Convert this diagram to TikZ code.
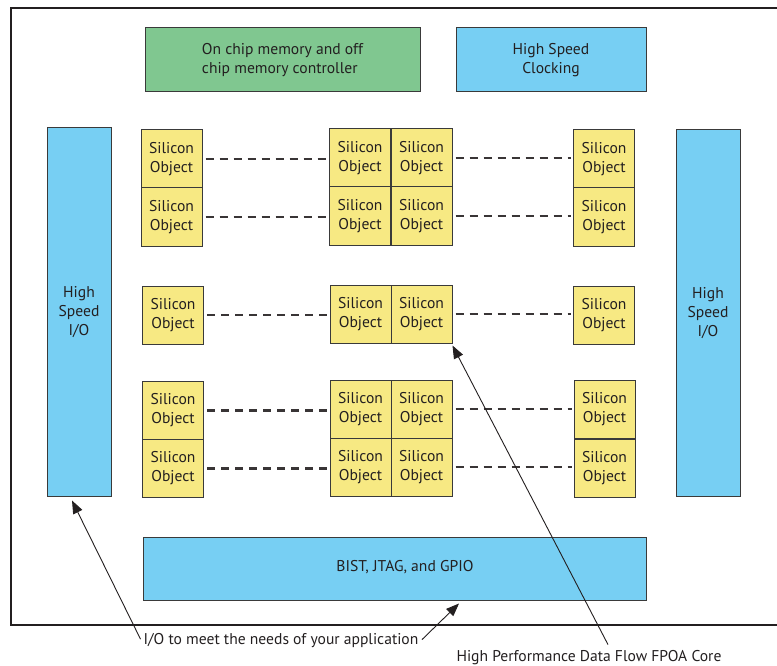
\documentclass[tikz,border=0pt]{standalone}
\usepackage{fontspec}
\setmainfont{PT Sans}
\usetikzlibrary{arrows.meta}
\definecolor{soyellow}{HTML}{F7E983}
\definecolor{ioblue}{HTML}{77CFF3}
\definecolor{memgreen}{HTML}{80C790}
\definecolor{edgegray}{HTML}{3A3A3A}
\definecolor{inkc}{HTML}{231F20}
\begin{document}
\begin{tikzpicture}[x=1pt,y=-1pt,
  txt/.style={font=\fontsize{15.6}{19}\selectfont, text=inkc},
  sobj/.style={txt, draw=edgegray, line width=1pt, fill=soyellow, minimum width=61pt, minimum height=58pt, inner sep=0pt, align=center},
  bluebox/.style={txt, draw=edgegray, line width=1pt, fill=ioblue, inner sep=0pt, align=center},
  greenbox/.style={txt, draw=edgegray, line width=1pt, fill=memgreen, inner sep=0pt},
  link/.style={draw=inkc!90, line width=2.5pt, dash pattern=on 8pt off 6pt, shorten <=3pt, shorten >=2pt},
  callout/.style={draw=inkc, line width=0.9pt, -{Triangle[length=13pt,width=10pt]}},
  label/.style={txt, inner sep=2pt}
]
\useasboundingbox (0,0) rectangle (777,666);
\begin{scope}
\clip (0,0) rectangle (777,666);
\draw[inkc, line width=2pt] (11,8) rectangle (800,625);
\end{scope}

% top blocks
\node[greenbox, minimum width=275pt, minimum height=64pt] (mem) at (282.5,60) {};
\node[txt, align=left] at (mem.center) {On chip memory and off\\chip memory controller};
\node[bluebox, minimum width=190pt, minimum height=64pt] (clk) at (551,60) {High Speed\\Clocking};

% side I/O
\node[bluebox, minimum width=64pt, minimum height=368pt] (lio) at (79,312) {High\\Speed\\I/O};
\node[bluebox, minimum width=64pt, minimum height=366pt] (rio) at (708,313) {High\\Speed\\I/O};

% bottom block
\node[bluebox, minimum width=503pt, minimum height=63pt] (bist) at (394.5,568.5) {};
\node[txt] at (405,567) {BIST, JTAG, and GPIO};

% silicon objects - top group
\node[sobj] (l1) at (171.5,159) {Silicon\\Object};
\node[sobj] (l2) at (171.5,217) {Silicon\\Object};
\node[sobj] (a1) at (360,158) {Silicon\\Object};
\node[sobj] (b1) at (421.5,158) {Silicon\\Object};
\node[sobj] (a2) at (360,216) {Silicon\\Object};
\node[sobj] (b2) at (421.5,216) {Silicon\\Object};
\node[sobj] (r1) at (604,159) {Silicon\\Object};
\node[sobj] (r2) at (604,217) {Silicon\\Object};

% middle row
\node[sobj] (l3) at (173,315) {Silicon\\Object};
\node[sobj] (a3) at (360.5,314) {Silicon\\Object};
\node[sobj] (b3) at (421.5,314) {Silicon\\Object};
\node[sobj] (r3) at (604,315) {Silicon\\Object};

% bottom group
\node[sobj] (l4) at (173,410.5) {Silicon\\Object};
\node[sobj] (l5) at (173,468.5) {Silicon\\Object};
\node[sobj] (a4) at (360.5,409) {Silicon\\Object};
\node[sobj] (b4) at (421.5,409) {Silicon\\Object};
\node[sobj] (a5) at (360.5,467) {Silicon\\Object};
\node[sobj] (b5) at (421.5,467) {Silicon\\Object};
\node[sobj] (r4) at (604.5,409.5) {Silicon\\Object};
\node[sobj] (r5) at (604.5,468) {Silicon\\Object};

% dashed links
\draw[link] (l1.east) -- (l1.east -| a1.west);
\draw[link] (l2.east) -- (l2.east -| a2.west);
\draw[link] (b1.east) -- (b1.east -| r1.west);
\draw[link] (b2.east) -- (b2.east -| r2.west);
\draw[link] (l3.east) -- (l3.east -| a3.west);
\draw[link] (b3.east) -- (b3.east -| r3.west);
\draw[link] (l4.east) -- (l4.east -| a4.west);
\draw[link] (l5.east) -- (l5.east -| a5.west);
\draw[link] (b4.east) -- (b4.east -| r4.west);
\draw[link] (b5.east) -- (b5.east -| r5.west);

% callouts
\node[label] (io) at (281,641) {I/O to meet the needs of your application};
\node[label] (fpoa) at (589,658) {High Performance Data Flow FPOA Core};
\draw[callout, shorten <=2pt] (io.west) -- ([xshift=-7pt,yshift=-4pt]lio.south);
\draw[callout, shorten <=2pt] (io.east) -- ([xshift=64.5pt,yshift=-3pt]bist.south);
\draw[callout] ([xshift=19pt,yshift=4pt]fpoa.north) -- ([yshift=-2pt]b3.south east);
\end{tikzpicture}
\end{document}
